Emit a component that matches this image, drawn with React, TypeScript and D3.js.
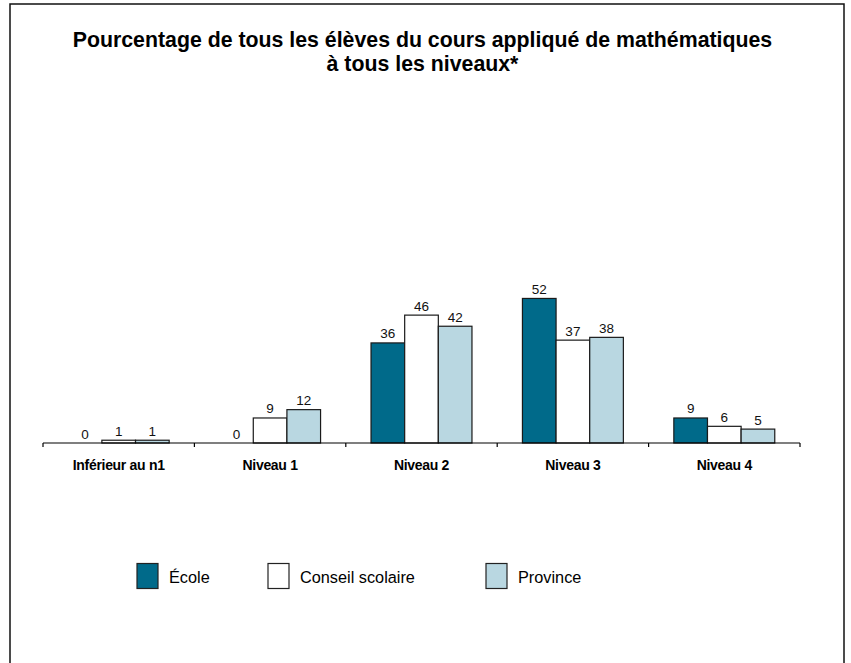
import React from 'react';
import * as d3 from 'd3';

const categories = ['Inférieur au n1', 'Niveau 1', 'Niveau 2', 'Niveau 3', 'Niveau 4'];
const seriesNames = ['École', 'Conseil scolaire', 'Province'];
const ecole = [0, 0, 36, 52, 9];
const conseil = [1, 9, 46, 37, 6];
const province = [1, 12, 42, 38, 5];
const colors = ['#006a8a', '#ffffff', '#b9d7e1'];
const titleLines = ['Pourcentage de tous les élèves du cours appliqué de mathématiques', 'à tous les niveaux*'];

const W = 851;
const H = 663;
const FONT = 'Liberation Sans, Arial, sans-serif';

const App: React.FC = () => {
  const values = [ecole, conseil, province];

  const x0 = d3.scaleBand<string>().domain(categories).range([43, 800]).padding(0);
  const x1 = d3
    .scaleBand<string>()
    .domain(seriesNames)
    .range([0, x0.bandwidth()])
    .paddingInner(0)
    .paddingOuter(0.75);
  const y = d3.scaleLinear().domain([0, 100]).range([443, 165]);

  // tick positions at band boundaries
  const ticks = categories.map((c) => x0(c) as number).concat([x0.range()[1]]);

  return (
    <svg
      width={W}
      height={H}
      style={{ position: 'absolute', left: 0, top: 0, display: 'block', background: '#fff' }}
    >
      {/* outer frame */}
      <rect x={10} y={4} width={834} height={700} fill="#fff" stroke="#111" strokeWidth={1.5} />

      {/* title */}
      {titleLines.map((t, i) => (
        <text
          key={i}
          x={422.5}
          y={47 + i * 24}
          textAnchor="middle"
          fontFamily={FONT}
          fontWeight="bold"
          fontSize={21.3}
          fill="#000"
        >
          {t}
        </text>
      ))}

      {/* bars */}
      {categories.map((cat, ci) => (
        <g key={cat} transform={`translate(${x0(cat)},0)`}>
          {seriesNames.map((s, si) => {
            const v = values[si][ci];
            const bx = x1(s) as number;
            return (
              <g key={s}>
                {v > 0 && (
                  <rect
                    x={bx}
                    y={y(v)}
                    width={x1.bandwidth()}
                    height={y(0) - y(v)}
                    fill={colors[si]}
                    stroke="#1a1a1a"
                    strokeWidth={1.2}
                  />
                )}
                <text
                  x={bx + x1.bandwidth() / 2}
                  y={y(v) - 4.5}
                  textAnchor="middle"
                  fontFamily={FONT}
                  fontSize={13.5}
                  fill="#111"
                >
                  {v}
                </text>
              </g>
            );
          })}
        </g>
      ))}

      {/* x axis */}
      <line x1={x0.range()[0]} x2={x0.range()[1]} y1={y(0)} y2={y(0)} stroke="#000" strokeWidth={1.2} />
      {ticks.map((t, i) => (
        <line key={i} x1={t} x2={t} y1={y(0)} y2={y(0) + 4} stroke="#000" strokeWidth={1.2} />
      ))}
      {categories.map((cat) => (
        <text
          key={cat}
          x={(x0(cat) as number) + x0.bandwidth() / 2}
          y={470}
          textAnchor="middle"
          fontFamily={FONT}
          fontWeight="bold"
          fontSize={14}
          letterSpacing={-0.3}
          fill="#000"
        >
          {cat}
        </text>
      ))}

      {/* legend */}
      {seriesNames.map((s, i) => {
        const lx = [137, 268, 486][i];
        return (
          <g key={s}>
            <rect x={lx} y={563.5} width={21} height={25} fill={colors[i]} stroke="#222" strokeWidth={1.2} />
            <text x={lx + 32} y={583} fontFamily={FONT} fontSize={16.3} fill="#000">
              {s}
            </text>
          </g>
        );
      })}
    </svg>
  );
};

export default App;
